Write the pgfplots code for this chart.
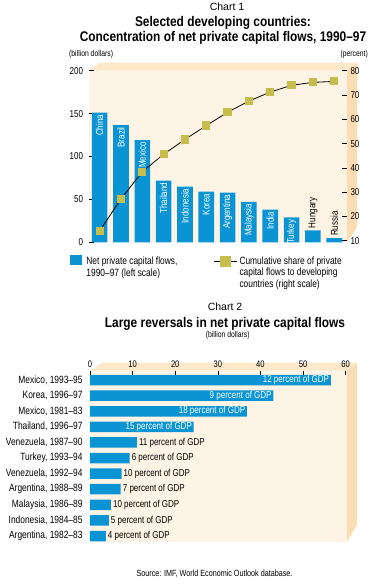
\documentclass[border=0pt]{standalone}
\usepackage{pgfplots}
\pgfplotsset{compat=1.18}
\usepackage{fontspec}
\setmainfont{Liberation Sans}[FakeStretch=0.8]
\newfontfamily\titlefont{Liberation Sans}[FakeStretch=0.85]
\newfontfamily\plainfont{Liberation Sans}
\definecolor{cblue}{HTML}{0A94D4}
\definecolor{cyel}{HTML}{C6BD4C}
\definecolor{facec}{HTML}{FEF4E5}
\definecolor{topc}{HTML}{FDE8C9}
\definecolor{sidec}{HTML}{FCDDB3}
\pgfplotsset{/pgf/number format/assume math mode=true}

\begin{document}
\begin{tikzpicture}
\useasboundingbox (0,0) rectangle (376pt,-584pt);
\begin{scope}[x=1pt,y=-1pt]
% chart 1 box
\fill[facec] (89,70.7) rectangle (347,242.3);
\fill[topc] (89,70.7) -- (100,62.7) -- (357,62.7) -- (347,70.7) -- cycle;
\fill[sidec] (347,70.7) -- (357,62.7) -- (357,227) -- (347,242.3) -- cycle;
% chart 2 box
\fill[facec] (90,370.7) rectangle (347,541.7);
\fill[topc] (90,370.7) -- (103,362.7) -- (357,362.7) -- (347,370.7) -- cycle;
\fill[sidec] (347,370.7) -- (357,362.7) -- (357,525) -- (347,541.7) -- cycle;
% texts chart 1
\node[anchor=base, inner sep=0pt, font=\plainfont\fontsize{10.5}{12}\selectfont] at (227,10.7) {Chart 1};
\node[anchor=base, inner sep=0pt, font=\titlefont\bfseries\fontsize{14}{16}\selectfont] at (223,26.7) {Selected developing countries:};
\node[anchor=base, inner sep=0pt, font=\titlefont\bfseries\fontsize{14}{16}\selectfont] at (223,41.7) {Concentration of net private capital flows, 1990–97};
\node[anchor=base west, inner sep=0pt, font=\fontsize{8.5}{10}\selectfont] at (69,56) {(billion dollars)};
\node[anchor=base east, inner sep=0pt, font=\fontsize{8.5}{10}\selectfont] at (368,56) {(percent)};
% texts chart 2
\node[anchor=base, inner sep=0pt, font=\plainfont\fontsize{10.5}{12}\selectfont] at (225,310.5) {Chart 2};
\node[anchor=base, inner sep=0pt, font=\titlefont\bfseries\fontsize{14}{16}\selectfont] at (225,327.3) {Large reversals in net private capital flows};
\node[anchor=base, inner sep=0pt, font=\fontsize{8.5}{10}\selectfont] at (227.7,337.5) {(billion dollars)};
\node[anchor=base, inner sep=0pt, font=\fontsize{9}{10}\selectfont] at (214.5,576.5) {Source: IMF, World Economic Outlook database.};
\end{scope}

% ---------- Chart 1, left scale ----------
\begin{axis}[
  at={(89pt,-242.3pt)}, anchor=south west,
  scale only axis, width=258pt, height=171.6pt,
  xmin=-0.5, xmax=11.6, ymin=0, ymax=200,
  axis line style={draw=none},
  xtick=\empty, ytick={0,50,100,150,200}, ytick pos=left,
  tick align=inside, major tick length=5pt,
  tick style={black, line width=0.7pt},
  yticklabel style={font=\fontsize{10}{10}\selectfont, xshift=-2.5pt},
  clip=false,
  legend style={at={(-0.0736,-0.141)}, anchor=west, draw=none, fill=none,
    inner sep=0pt, outer sep=0pt, nodes={inner sep=0pt, align=left},
    /tikz/column sep=5pt, font=\fontsize{10.5}{11.7}\selectfont},
  legend cell align=left,
]
\addplot[ybar, bar width=15.6pt, fill=cblue, draw=none, forget plot] coordinates {
(0,151) (1,136.5) (2,119) (3,72) (4,65) (5,59) (6,58) (7,47) (8,38) (9,29) (10,14) (11,5)};
\addplot[draw=none, mark=none, forget plot, nodes near coords, point meta=explicit symbolic,
  every node near coord/.append style={rotate=90, anchor=east, inner sep=2pt, text=white, font=\fontsize{10}{10}\selectfont}]
  table[meta=lab, col sep=comma] {
x,y,lab
0,151,China
1,136.5,Brazil
2,119,Mexico
3,72,Thailand
4,65,Indonesia
5,59,Korea
6,58,Argentina
7,47,Malaysia
8,38,India
9,29,Turkey
};
\addplot[draw=none, mark=none, forget plot, nodes near coords, point meta=explicit symbolic,
  every node near coord/.append style={rotate=90, anchor=west, inner sep=2pt, text=black, font=\fontsize{10}{10}\selectfont}]
  table[meta=lab, col sep=comma] {
x,y,lab
10,14,Hungary
11,5,Russia
};
\addlegendimage{legend image code/.code={\fill[cblue] (0pt,2.5pt) rectangle (11pt,11.5pt);}}
\addlegendentry{Net private capital flows,\\1990–97 (left scale)}
\end{axis}

% ---------- Chart 1, right scale ----------
\begin{axis}[
  at={(89pt,-240.7pt)}, anchor=south west,
  scale only axis, width=258pt, height=170pt,
  xmin=-0.5, xmax=11.6, ymin=10, ymax=80,
  axis line style={draw=none},
  xtick=\empty, ytick={10,20,...,80}, ytick pos=right,
  tick align=inside, major tick length=5pt,
  tick style={black, line width=0.7pt},
  yticklabel style={font=\fontsize{10}{10}\selectfont},
  clip=false,
  legend style={at={(0.4818,-0.1865)}, anchor=west, draw=none, fill=none,
    inner sep=0pt, outer sep=0pt, nodes={inner sep=0pt, align=left},
    /tikz/column sep=2pt, font=\fontsize{10.5}{11.7}\selectfont},
  legend cell align=left,
]
\addplot[black, line width=0.8pt, mark=square*, mark size=3.6pt,
  mark options={fill=cyel, draw=cyel, line width=0pt}, forget plot] coordinates {
(0,14) (1,27.2) (2,38.4) (3,45.6) (4,51.7) (5,57.4) (6,62.9) (7,67.5) (8,71.2) (9,74.0) (10,75.2) (11,75.6)};
\addlegendimage{legend image code/.code={\draw[black, line width=0.8pt] (0pt,11.7pt) -- (23.4pt,11.7pt); \fill[cyel] (6.7pt,6.7pt) rectangle (16.7pt,16.7pt);}}
\addlegendentry{Cumulative share of private\\capital flows to developing\\countries (right scale)}
\end{axis}

% ---------- Chart 2 ----------
\begin{axis}[
  at={(90pt,-541.7pt)}, anchor=south west,
  scale only axis, width=255.7pt, height=171pt,
  xmin=0, xmax=60, ymin=-0.6, ymax=10.365, y dir=reverse,
  axis line style={draw=none},
  xtick={0,10,...,60}, xtick pos=right, xticklabel pos=right,
  tick align=inside, major tick length=4pt,
  tick style={black, line width=0.6pt},
  xticklabel style={font=\fontsize{9.5}{10}\selectfont},
  ytick={0,...,10}, ytick style={draw=none}, ytick pos=left,
  yticklabels={{Mexico, 1993–95},{Korea, 1996–97},{Mexico, 1981–83},{Thailand, 1996–97},{Venezuela, 1987–90},{Turkey, 1993–94},{Venezuela, 1992–94},{Argentina, 1988–89},{Malaysia, 1986–89},{Indonesia, 1984–85},{Argentina, 1982–83}},
  yticklabel style={font=\fontsize{10.5}{10}\selectfont, xshift=-4pt},
  clip=false,
]
\addplot[xbar, bar width=10.5pt, fill=cblue, draw=none] coordinates {
(56.5,0) (43.0,1) (36.8,2) (24.3,3) (11.0,4) (9.3,5) (7.4,6) (7.2,7) (4.9,8) (4.4,9) (3.7,10)};
\addplot[draw=none, mark=none, nodes near coords, point meta=explicit symbolic,
  every node near coord/.append style={anchor=east, inner sep=1.5pt, text=white, font=\fontsize{10}{10}\selectfont}]
  table[meta=lab, col sep=comma] {
x,y,lab
56.5,0,12 percent of GDP
43.0,1,9 percent of GDP
36.8,2,18 percent of GDP
24.3,3,15 percent of GDP
};
\addplot[draw=none, mark=none, nodes near coords, point meta=explicit symbolic,
  every node near coord/.append style={anchor=west, inner sep=2pt, text=black, font=\fontsize{10}{10}\selectfont}]
  table[meta=lab, col sep=comma] {
x,y,lab
11.0,4,11 percent of GDP
9.3,5,6 percent of GDP
7.4,6,10 percent of GDP
7.2,7,7 percent of GDP
4.9,8,10 percent of GDP
4.4,9,5 percent of GDP
3.7,10,4 percent of GDP
};
\end{axis}
\end{tikzpicture}
\end{document}
